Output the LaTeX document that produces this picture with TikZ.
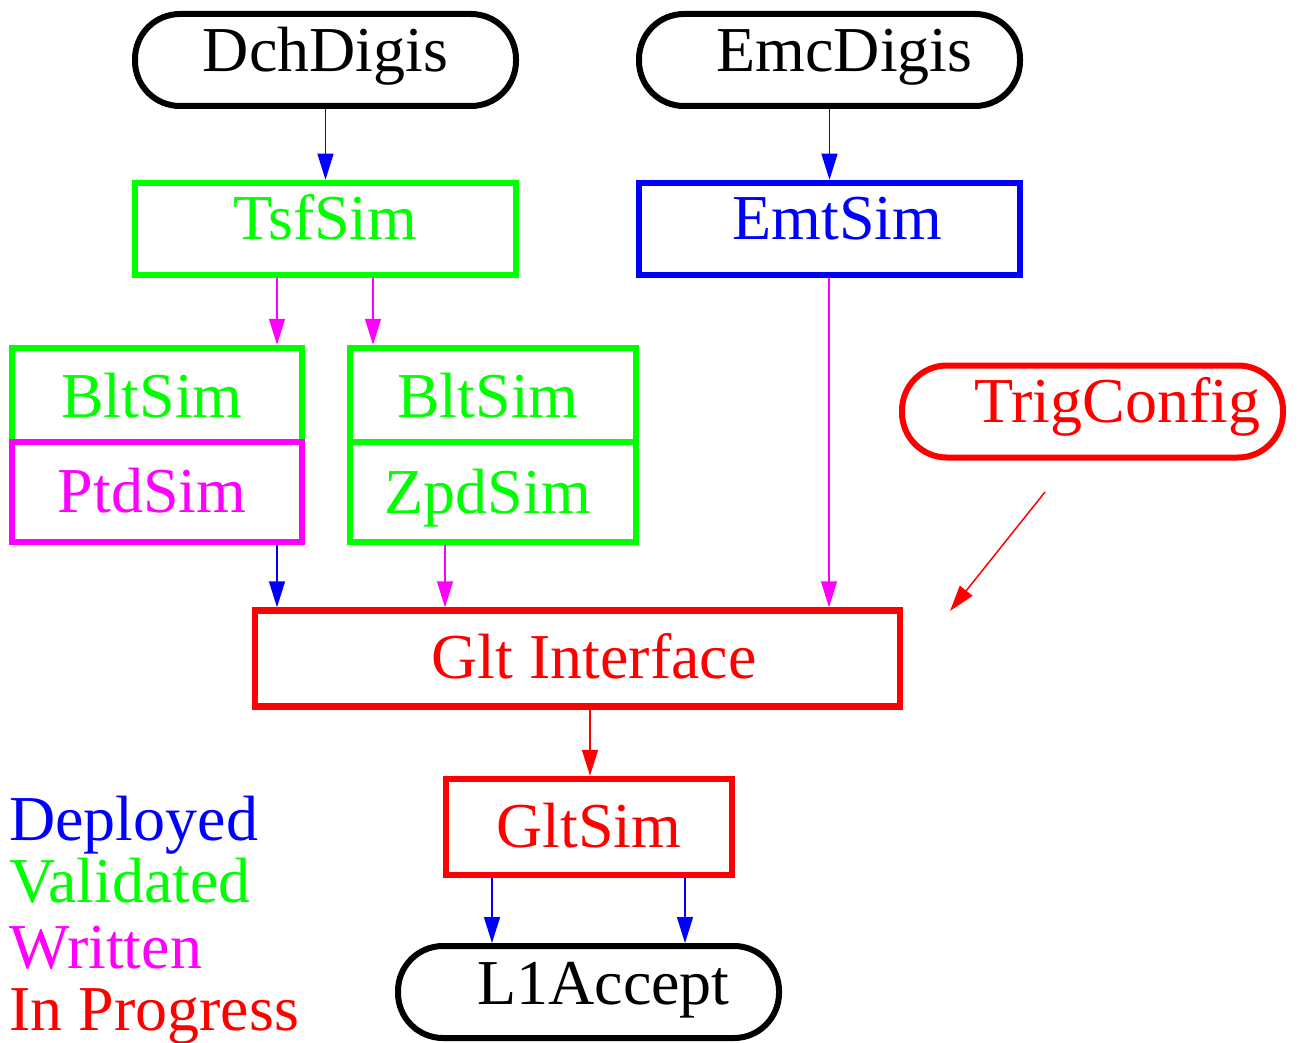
\documentclass[tikz,border=0pt]{standalone}
\usepackage{fontspec}
\setmainfont{Liberation Serif}
\usetikzlibrary{arrows.meta}
\definecolor{cblue}{RGB}{0,0,255}
\definecolor{cgreen}{RGB}{0,255,0}
\definecolor{cmag}{RGB}{255,0,255}
\definecolor{cred}{RGB}{255,0,0}
\begin{document}
\begin{tikzpicture}[x=1pt,y=-1pt,
  every node/.style={font=\fontsize{64}{70}\selectfont},
  bl/.style={text height={40pt+#1}, text depth={40pt-#1}},
  box/.style={draw, line width=6.5pt, inner sep=0pt, minimum width=#1},
  pill/.style={draw=black, line width=6pt, inner sep=0pt, rounded corners=45pt, minimum width=381pt, minimum height=92pt},
  conn/.style={line width=1.5pt, -{Triangle[length=26pt,width=16pt]}},
  legend/.style={anchor=base west, inner sep=0pt}]
\useasboundingbox (0,0) rectangle (1298,1043);
% sources
\node[pill, bl=12pt] (dch) at (325.5,60) {DchDigis};
\node[pill, bl=12pt] (emc) at (829.5,60) {\hspace*{30pt}EmcDigis};
% sims
\node[box=381pt, minimum height=92pt, bl=11pt, draw=cgreen, text=cgreen] (tsf) at (325.5,229) {TsfSim};
\node[box=381pt, minimum height=92pt, bl=11pt, draw=cblue, text=cblue] (emt) at (829.5,229) {\hspace*{16pt}EmtSim};
\node[box=290pt, minimum height=94pt, bl=22pt, draw=cgreen, text=cgreen] (blta) at (157,395) {BltSim\hspace*{10pt}};
\node[box=290pt, minimum height=100pt, bl=20pt, draw=cmag, text=cmag] (ptd) at (157,492) {PtdSim\hspace*{10pt}};
\node[box=286pt, minimum height=94pt, bl=22pt, draw=cgreen, text=cgreen] (bltb) at (493,395) {BltSim\hspace*{10pt}};
\node[box=286pt, minimum height=100pt, bl=21pt, draw=cgreen, text=cgreen] (zpd) at (493,492) {ZpdSim\hspace*{10pt}};
\node[pill, bl=10.5pt, draw=cred, text=cred] (trig) at (1092.5,411.5) {\hspace*{50pt}TrigConfig};
\node[box=645pt, minimum height=96pt, bl=20pt, draw=cred, text=cred] (gi) at (577.5,658.5) {\hspace*{33pt}Glt Interface};
\node[box=286pt, minimum height=96pt, bl=20pt, draw=cred, text=cred] (glt) at (589,827) {GltSim};
\node[pill, minimum height=92pt, bl=12pt] (l1) at (588.5,992) {\hspace*{30pt}L1Accept};
% helper columns
\coordinate (c277) at (277,0);
\coordinate (c373) at (373,0);
\coordinate (c445) at (445,0);
\coordinate (c590) at (590,0);
\coordinate (c492) at (492,0);
\coordinate (c685) at (685,0);
\coordinate (c829) at (829,0);
\coordinate (trigtail) at (1045,492);
\coordinate (trighead) at (950,611);
% connectors
\draw[conn, cblue] (dch.south) -- (tsf.north);
\draw[conn, cblue] (emc.south) -- (emt.north);
\draw[conn, cmag] (tsf.south -| c277) -- (blta.north -| c277);
\draw[conn, cmag] (tsf.south -| c373) -- (bltb.north -| c373);
\draw[conn, cmag] (emt.south -| c829) -- (gi.north -| c829);
\draw[conn, cblue] (ptd.south -| c277) -- (gi.north -| c277);
\draw[conn, cmag] (zpd.south -| c445) -- (gi.north -| c445);
\draw[conn, cred] (trigtail) -- (trighead);
\draw[conn, cred] (gi.south -| c590) -- (glt.north -| c590);
\draw[conn, cblue] (glt.south -| c492) -- (l1.north -| c492);
\draw[conn, cblue] (glt.south -| c685) -- (l1.north -| c685);
% legend
\node[legend, text=cblue] (ldep) at (9,840) {Deployed};
\node[legend, text=cgreen] (lval) at (9,902) {Validated};
\node[legend, text=cmag] (lwri) at (9,968) {Written};
\node[legend, text=cred] (lprog) at (9,1030) {In Progress};
\end{tikzpicture}
\end{document}
